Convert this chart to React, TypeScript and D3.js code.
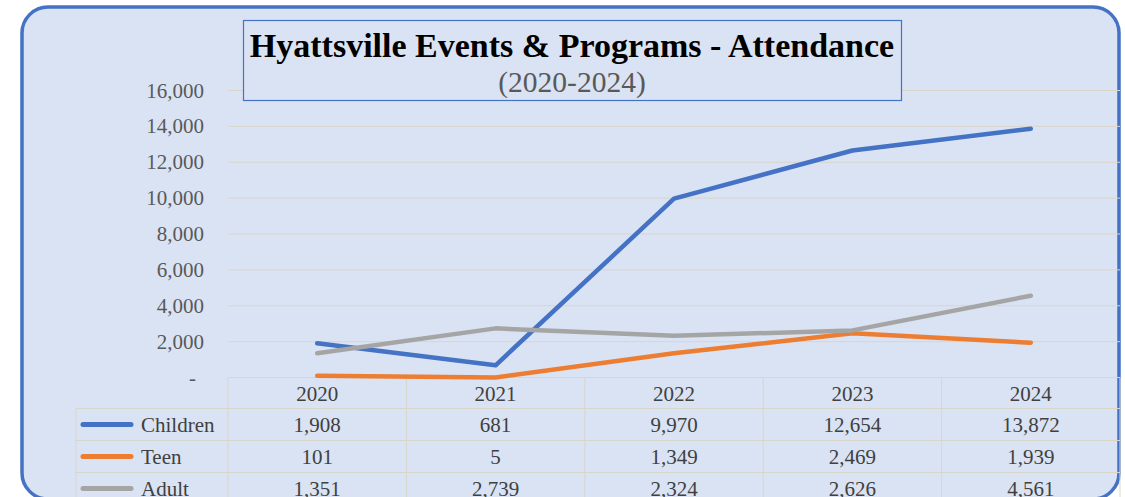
import React from "react";
import * as d3 from "d3";

const years = ["2020", "2021", "2022", "2023", "2024"];
const children = [1908, 681, 9970, 12654, 13872];
const teen = [101, 5, 1349, 2469, 1939];
const adult = [1351, 2739, 2324, 2626, 4561];
const yTicks = [0, 2000, 4000, 6000, 8000, 10000, 12000, 14000, 16000];

const seriesNames = ["Children", "Teen", "Adult"];
const seriesColors = ["#4472c4", "#ed7d31", "#a5a5a5"];

export default function App() {
  const W = 1125, H = 497;
  const plotL = 228, plotR = 1120;
  const y0 = 377.5, yTop = 90.5;
  const rowH = 32;
  const tableL = 76;
  const serif = "'Liberation Serif', 'Times New Roman', serif";
  const gridColor = "#d9d5cb";
  const fs = 21;

  const x = d3.scaleBand<string>().domain(years).range([plotL, plotR]);
  const y = d3.scaleLinear().domain([0, 16000]).range([y0, yTop]);
  const fmt = d3.format(",");
  const series = [children, teen, adult];
  const line = d3
    .line<number>()
    .x((_, i) => (x(years[i]) as number) + x.bandwidth() / 2)
    .y((d) => y(d));

  return (
    <svg width={W} height={H} style={{ position: "absolute", left: 0, top: 0 }}>
      <rect x={0} y={0} width={W} height={H} fill="#ffffff" />
      <rect x={22} y={7} width={1097} height={492} rx={26} ry={26} fill="#dae3f3" stroke="#4472c4" strokeWidth={3.5} />
      {yTicks.map((t) => (
        <line key={"g" + t} x1={plotL} x2={plotR} y1={y(t)} y2={y(t)} stroke={gridColor} strokeWidth={1} />
      ))}
      {yTicks.map((t) => (
        <text
          key={"t" + t}
          x={t === 0 ? 196 : 204}
          y={y(t) + 7}
          textAnchor="end"
          fontFamily={serif}
          fontSize={fs}
          fill="#595959"
        >
          {t === 0 ? "-" : fmt(t)}
        </text>
      ))}
      <rect x={243.5} y={20.5} width={658} height={80} fill="#dae3f3" stroke="#4472c4" strokeWidth={1.2} />
      <text x={572} y={57} textAnchor="middle" fontFamily={serif} fontWeight="bold" fontSize={34} fill="#000">
        Hyattsville Events &amp; Programs - Attendance
      </text>
      <text x={572} y={92} textAnchor="middle" fontFamily={serif} fontSize={29.5} fill="#595959">
        (2020-2024)
      </text>
      {years.map((yr) => {
        const bx = x(yr) as number;
        return (
          <g key={"c" + yr}>
            <line x1={bx} x2={bx} y1={y0} y2={H} stroke={gridColor} />
            <text
              x={bx + x.bandwidth() / 2}
              y={y0 + 23}
              textAnchor="middle"
              fontFamily={serif}
              fontSize={fs}
              fill="#404040"
            >
              {yr}
            </text>
          </g>
        );
      })}
      <line x1={plotR} x2={plotR} y1={y0} y2={H} stroke={gridColor} />
      <line x1={tableL} x2={tableL} y1={y0 + rowH - 1} y2={H} stroke={gridColor} />
      {seriesNames.map((name, r) => {
        const top = y0 + rowH - 1 + r * rowH;
        return (
          <g key={"r" + name}>
            <line x1={tableL} x2={plotR} y1={top} y2={top} stroke={gridColor} />
            <line
              x1={83}
              x2={131}
              y1={top + rowH / 2}
              y2={top + rowH / 2}
              stroke={seriesColors[r]}
              strokeWidth={5}
              strokeLinecap="round"
            />
            <text x={141} y={top + 23} fontFamily={serif} fontSize={fs} fill="#404040">
              {name}
            </text>
            {series[r].map((v, i) => (
              <text
                key={"v" + i}
                x={(x(years[i]) as number) + x.bandwidth() / 2}
                y={top + 23}
                textAnchor="middle"
                fontFamily={serif}
                fontSize={fs}
                fill="#404040"
              >
                {fmt(v)}
              </text>
            ))}
          </g>
        );
      })}
      {series.map((s, r) => (
        <path
          key={"l" + r}
          d={line(s) || ""}
          fill="none"
          stroke={seriesColors[r]}
          strokeWidth={4.5}
          strokeLinejoin="round"
          strokeLinecap="round"
        />
      ))}
    </svg>
  );
}
